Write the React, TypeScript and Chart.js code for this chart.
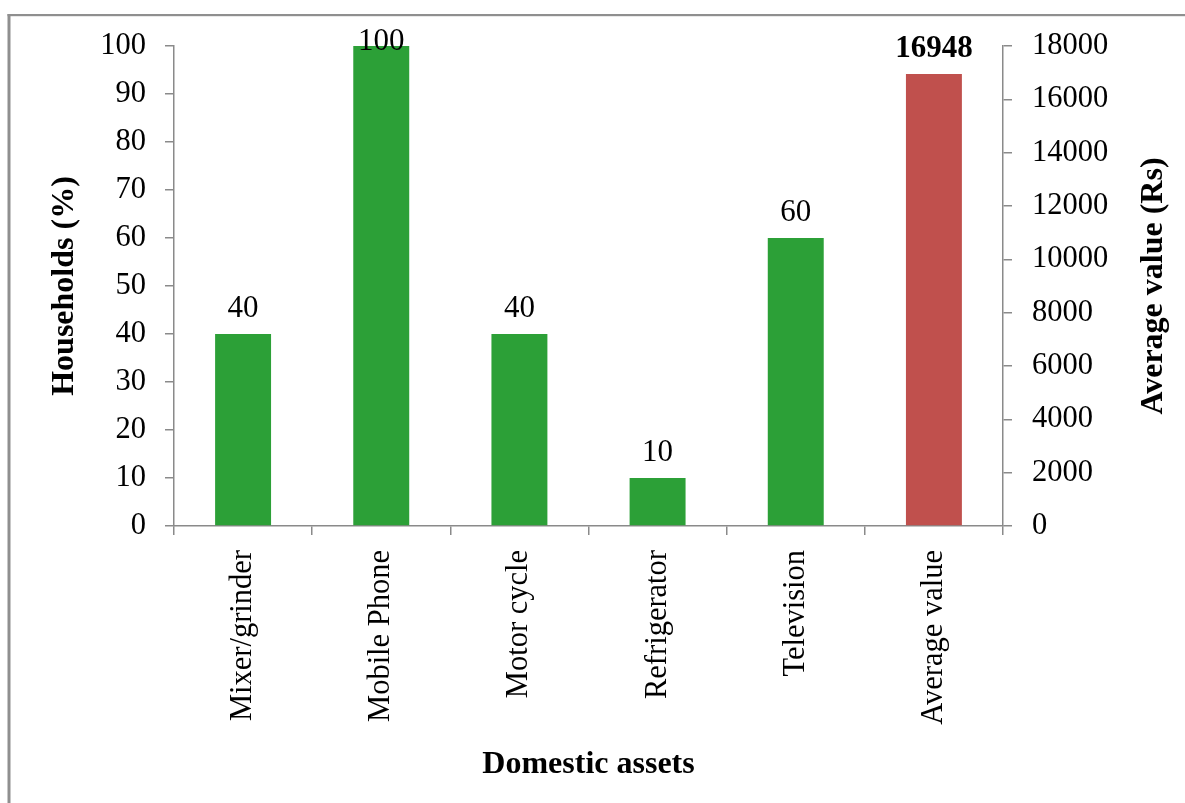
import React, { useEffect, useRef } from "react";
import { Chart, registerables } from "chart.js";

Chart.register(...registerables);

// Domestic assets owned by households and their average value
const assetLabels = [
  "Mixer/grinder",
  "Mobile Phone",
  "Motor cycle",
  "Refrigerator",
  "Television",
  "Average value",
];
const householdPercent = [40, 100, 40, 10, 60, null];
const averageValueRs = [null, null, null, null, null, 16948];

// Axis ranges
const percentMax = 100;
const percentStep = 10;
const rupeeMax = 18000;
const rupeeStep = 2000;

// Axis titles
const leftTitle = "Households (%)";
const rightTitle = "Average value (Rs)";
const bottomTitle = "Domestic assets";

const SERIF = '"Liberation Serif", "Times New Roman", Times, serif';
const GREEN = "#2ca037";
const RED = "#c0504d";
const AXIS = "#8a8a8a";

// Frame around the whole figure (only top and left edges fall inside the canvas)
const framePlugin = {
  id: "frame",
  beforeDraw(chart: any) {
    const { ctx, width, height } = chart;
    ctx.save();
    ctx.fillStyle = "#ffffff";
    ctx.fillRect(0, 0, width, height);
    ctx.fillStyle = "#8f8f8f";
    ctx.fillRect(7.5, 14, width, 2.2);
    ctx.fillRect(7.5, 14, 3, height);
    ctx.restore();
  },
};

// Value labels above each bar
const valueLabelPlugin = {
  id: "valueLabels",
  afterDatasetsDraw(chart: any) {
    const { ctx, chartArea } = chart;
    ctx.save();
    ctx.fillStyle = "#000000";
    ctx.textAlign = "center";
    ctx.textBaseline = "alphabetic";
    chart.data.datasets.forEach((ds: any, di: number) => {
      const meta = chart.getDatasetMeta(di);
      meta.data.forEach((bar: any, i: number) => {
        const v = ds.data[i];
        if (v === null || v === undefined) return;
        ctx.font = (di === 1 ? "bold " : "") + "31px " + SERIF;
        const y = Math.max(bar.y - 17, chartArea.top + 4);
        ctx.fillText(String(v), bar.x, y);
      });
    });
    ctx.restore();
  },
};

// Axis titles
const axisTitlePlugin = {
  id: "axisTitles",
  afterDraw(chart: any) {
    const { ctx, chartArea } = chart;
    const midY = (chartArea.top + chartArea.bottom) / 2;
    const midX = (chartArea.left + chartArea.right) / 2;
    ctx.save();
    ctx.fillStyle = "#000000";
    ctx.font = "bold 32px " + SERIF;
    ctx.textAlign = "center";
    ctx.textBaseline = "alphabetic";

    ctx.save();
    ctx.translate(73, midY);
    ctx.rotate(-Math.PI / 2);
    ctx.fillText(leftTitle, 0, 0);
    ctx.restore();

    ctx.save();
    ctx.translate(1162, midY);
    ctx.rotate(-Math.PI / 2);
    ctx.fillText(rightTitle, 0, 0);
    ctx.restore();

    ctx.fillText(bottomTitle, midX, 773);
    ctx.restore();
  },
};

export default function App() {
  const canvasRef = useRef<HTMLCanvasElement | null>(null);

  useEffect(() => {
    const canvas = canvasRef.current;
    if (!canvas) return;
    const tickFont = { family: SERIF, size: 30.5 };

    const chart = new Chart(canvas, {
      type: "bar",
      data: {
        labels: assetLabels,
        datasets: [
          {
            label: leftTitle,
            data: householdPercent,
            backgroundColor: GREEN,
            yAxisID: "y",
            grouped: false,
            barPercentage: 0.405,
            categoryPercentage: 1,
          } as any,
          {
            label: rightTitle,
            data: averageValueRs,
            backgroundColor: RED,
            yAxisID: "y1",
            grouped: false,
            barPercentage: 0.405,
            categoryPercentage: 1,
          } as any,
        ],
      },
      options: {
        responsive: false,
        animation: false,
        layout: { padding: { top: 46, left: 0, right: 0, bottom: 0 } },
        plugins: {
          legend: { display: false },
          tooltip: { enabled: false },
        },
        scales: {
          x: {
            grid: {
              drawOnChartArea: false,
              drawTicks: true,
              tickLength: 9,
              color: AXIS,
              lineWidth: 1.5,
              offset: true,
            },
            border: { display: true, color: AXIS, width: 1.5 },
            ticks: {
              minRotation: 90,
              maxRotation: 90,
              autoSkip: false,
              padding: 15,
              color: "#000000",
              font: tickFont,
            },
            afterFit: (s: any) => {
              s.height = 277;
            },
          },
          y: {
            position: "left",
            min: 0,
            max: percentMax,
            grid: {
              drawOnChartArea: false,
              tickLength: 9,
              color: AXIS,
              lineWidth: 1.5,
            },
            border: { display: true, color: AXIS, width: 1.5 },
            ticks: {
              stepSize: percentStep,
              padding: 19,
              color: "#000000",
              font: tickFont,
              callback: (v: any) => String(v),
            },
            afterFit: (s: any) => {
              s.width = 174;
            },
          },
          y1: {
            position: "right",
            min: 0,
            max: rupeeMax,
            grid: {
              drawOnChartArea: false,
              tickLength: 9,
              color: AXIS,
              lineWidth: 1.5,
            },
            border: { display: true, color: AXIS, width: 1.5 },
            ticks: {
              stepSize: rupeeStep,
              padding: 20,
              color: "#000000",
              font: tickFont,
              callback: (v: any) => String(v),
            },
            afterFit: (s: any) => {
              s.width = 182;
            },
          },
        },
      } as any,
      plugins: [framePlugin, valueLabelPlugin, axisTitlePlugin],
    });

    return () => chart.destroy();
  }, []);

  return (
    <div style={{ position: "absolute", left: 0, top: 0, width: 1185, height: 803, background: "#fff" }}>
      <canvas ref={canvasRef} width={1185} height={803} style={{ display: "block" }} />
    </div>
  );
}
